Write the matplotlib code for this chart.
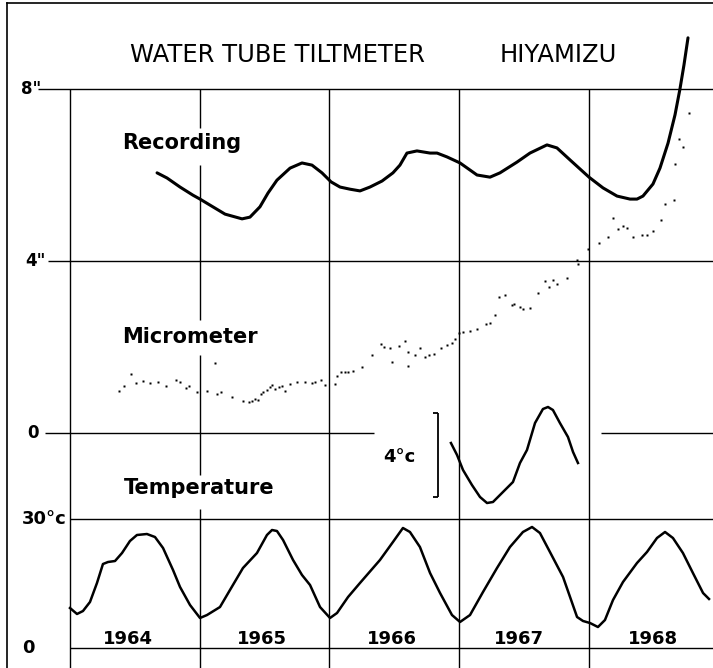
import matplotlib
matplotlib.use("Agg")
import matplotlib.pyplot as plt

# ---------------- data ----------------
years = [1964, 1965, 1966, 1967, 1968]
year_labels = ["1964", "1965", "1966", "1967", "1968"]
year_label_x = [1964.443, 1965.480, 1966.485, 1967.460, 1968.493]

tilt_ticks = [8, 4, 0]
tilt_tick_labels = ['8"', '4"', '0']
temp_ticks = [30, 0]
temp_tick_labels = ['30°c', '0']

# Recording (tilt, inches)
rec_t = [1964.671, 1964.748, 1964.848, 1964.948, 1965.002, 1965.079, 1965.195, 1965.326,
         1965.387, 1965.464, 1965.526, 1965.595, 1965.696, 1965.788, 1965.865, 1965.942,
         1966.012, 1966.081, 1966.158, 1966.235, 1966.312, 1966.405, 1966.489, 1966.543,
         1966.597, 1966.674, 1966.775, 1966.829, 1966.906, 1967.006, 1967.137, 1967.237,
         1967.314, 1967.445, 1967.545, 1967.676, 1967.753, 1967.854, 1968.000, 1968.108,
         1968.216, 1968.316, 1968.370, 1968.416, 1968.493, 1968.547, 1968.609, 1968.663,
         1968.701, 1968.732, 1968.763]
rec_in = [6.05, 5.93, 5.72, 5.53, 5.44, 5.30, 5.09, 4.98,
          5.02, 5.26, 5.58, 5.88, 6.16, 6.28, 6.23, 6.05,
          5.84, 5.72, 5.67, 5.63, 5.72, 5.86, 6.05, 6.23,
          6.51, 6.56, 6.51, 6.51, 6.42, 6.28, 6.00, 5.95,
          6.05, 6.30, 6.51, 6.70, 6.63, 6.35, 5.95, 5.70,
          5.51, 5.44, 5.44, 5.51, 5.79, 6.16, 6.74, 7.40,
          8.00, 8.56, 9.19]

# Micrometer (tilt, inches)
mic_t = [1964.378, 1964.416, 1964.470, 1964.509, 1964.563, 1964.617, 1964.678, 1964.740,
         1964.817, 1964.848, 1964.894, 1964.917, 1964.979, 1965.056, 1965.118, 1965.133,
         1965.164, 1965.249, 1965.333, 1965.380, 1965.403, 1965.426, 1965.449, 1965.472,
         1965.487, 1965.518, 1965.541, 1965.557, 1965.580, 1965.611, 1965.634, 1965.657,
         1965.696, 1965.750, 1965.811, 1965.865, 1965.888, 1965.934, 1965.965, 1966.042,
         1966.058, 1966.089, 1966.119, 1966.143, 1966.181, 1966.250, 1966.328, 1966.397,
         1966.420, 1966.466, 1966.482, 1966.536, 1966.582, 1966.605, 1966.605, 1966.659,
         1966.697, 1966.736, 1966.767, 1966.805, 1966.859, 1966.906, 1966.944, 1966.967,
         1966.998, 1967.029, 1967.083, 1967.137, 1967.206, 1967.237, 1967.276, 1967.306,
         1967.353, 1967.407, 1967.422, 1967.468, 1967.491, 1967.545, 1967.607, 1967.661,
         1967.692, 1967.723, 1967.753, 1967.830, 1967.908, 1967.915, 1967.992, 1968.077,
         1968.146, 1968.185, 1968.223, 1968.262, 1968.293, 1968.339, 1968.408, 1968.447,
         1968.493, 1968.555, 1968.586, 1968.655, 1968.663, 1968.694, 1968.724, 1968.771]
mic_in = [0.977, 1.093, 1.372, 1.163, 1.209, 1.163, 1.186, 1.093,
          1.233, 1.186, 1.047, 1.093, 0.953, 0.977, 1.628, 0.907,
          0.953, 0.837, 0.744, 0.721, 0.744, 0.791, 0.767, 0.907,
          0.953, 1.000, 1.070, 1.116, 1.023, 1.070, 1.093, 0.977,
          1.140, 1.186, 1.186, 1.163, 1.186, 1.233, 1.116, 1.140,
          1.326, 1.419, 1.419, 1.419, 1.442, 1.535, 1.814, 2.070,
          2.000, 1.977, 1.651, 2.023, 2.140, 1.884, 1.558, 1.814,
          1.977, 1.767, 1.814, 1.837, 1.977, 2.047, 2.093, 2.186,
          2.326, 2.349, 2.372, 2.419, 2.535, 2.558, 2.744, 3.163,
          3.209, 2.977, 3.000, 2.930, 2.884, 2.907, 3.256, 3.535,
          3.395, 3.558, 3.465, 3.605, 4.023, 3.930, 4.279, 4.419,
          4.558, 5.000, 4.744, 4.814, 4.767, 4.558, 4.605, 4.605,
          4.698, 4.953, 5.326, 5.419, 6.256, 6.837, 6.651, 7.442]

# Temperature (deg C)
temp_t = [1964.000, 1964.054, 1964.100, 1964.154, 1964.208, 1964.254, 1964.293, 1964.347,
          1964.401, 1964.462, 1964.516, 1964.593, 1964.655, 1964.717, 1964.794, 1964.848,
          1964.925, 1965.002, 1965.056, 1965.156, 1965.233, 1965.333, 1965.441, 1965.518,
          1965.557, 1965.595, 1965.642, 1965.719, 1965.788, 1965.850, 1965.927, 1966.004,
          1966.058, 1966.143, 1966.235, 1966.389, 1966.489, 1966.566, 1966.620, 1966.697,
          1966.775, 1966.852, 1966.944, 1967.006, 1967.083, 1967.183, 1967.291, 1967.391,
          1967.491, 1967.561, 1967.622, 1967.699, 1967.800, 1967.854, 1967.908, 1967.954,
          1968.008, 1968.069, 1968.123, 1968.185, 1968.262, 1968.370, 1968.447, 1968.524,
          1968.586, 1968.647, 1968.724, 1968.801, 1968.879, 1968.925]
temp_c = [9.30, 7.91, 8.60, 10.70, 15.12, 19.53, 20.00, 20.23,
          22.09, 24.88, 26.28, 26.51, 25.81, 23.26, 18.14, 14.19,
          10.00, 6.98, 7.67, 9.53, 13.49, 18.60, 22.09, 26.28,
          27.44, 27.21, 25.12, 20.47, 16.98, 14.65, 9.53, 6.98,
          8.14, 11.86, 15.12, 20.47, 24.65, 27.91, 26.98, 23.49,
          17.44, 12.79, 7.67, 6.05, 7.67, 13.02, 18.60, 23.49,
          26.98, 28.14, 26.74, 22.33, 16.51, 11.86, 7.21, 6.28,
          5.81, 4.88, 6.51, 11.16, 15.35, 19.77, 22.33, 25.58,
          26.98, 25.58, 22.09, 17.44, 12.79, 11.40]

# Inset temperature record (deg C, relative to scale bar base)
ins_t = [1966.936, 1966.983, 1967.029, 1967.098, 1967.160, 1967.214, 1967.260, 1967.337,
         1967.414, 1967.468, 1967.522, 1967.584, 1967.645, 1967.684, 1967.722, 1967.776,
         1967.838, 1967.877, 1967.915]
ins_c = [2.571, 2.000, 1.286, 0.571, 0.000, -0.286, -0.238, 0.238,
         0.714, 1.619, 2.238, 3.524, 4.190, 4.286, 4.143, 3.524,
         2.857, 2.143, 1.619]
scale_bar = [0, 4]

# ---------------- figure ----------------
W, H = 713, 668
fig = plt.figure(figsize=(W / 100, H / 100), dpi=100)
ax = fig.add_axes([7 / W, 0, (W - 7) / W, (H - 3) / H])
ax.set_xlim(1963.5145, 1968.9557)
ax.set_ylim(-5.465, 10.0)
ax_t = ax.twinx()
ax_t.set_ylim(-4.651, 150.0)
ax_i = ax.twinx()
ax_i.set_ylim(-8.143, 23.524)

for a in (ax, ax_t, ax_i):
    a.set_xticks([])
    a.set_yticks([])
    for s in a.spines.values():
        s.set_visible(False)
    a.patch.set_visible(False)
ax.spines["left"].set_visible(True)
ax.spines["top"].set_visible(True)
ax.spines["left"].set_linewidth(1.2)
ax.spines["top"].set_linewidth(1.2)

grid_kw = dict(color="black", lw=1.0)
xr = ax.get_xlim()[1]
ybot = ax.get_ylim()[0]

# horizontal tilt lines
ax.hlines(8, 1963.753, xr, **grid_kw)
ax.hlines(4, 1963.830, xr, **grid_kw)
ax.hlines(0, 1963.807, 1966.343, **grid_kw)
ax.hlines(0, 1968.092, xr, **grid_kw)
# temperature lines
ax_t.hlines(temp_ticks, years[0], xr, **grid_kw)

# vertical year lines
for yv in years:
    if yv == 1965:
        segs = [(8, 7.093), (6.233, 2.628), (1.814, -0.977), (-1.767, ybot)]
    else:
        segs = [(8, ybot)]
    for top, bot in segs:
        ax.vlines(yv, bot, top, **grid_kw)

# series
ax.plot(rec_t, rec_in, color="black", lw=2.2, solid_joinstyle="round",
        solid_capstyle="round")
ax.plot(mic_t, mic_in, ls="none", marker="s", ms=1.8, color="black", mec="none")
ax_t.plot(temp_t, temp_c, color="black", lw=1.8, solid_joinstyle="round")
ax_i.plot(ins_t, ins_c, color="black", lw=1.8, solid_joinstyle="round")

# scale bar
ax_i.vlines(1966.836, scale_bar[0], scale_bar[1], color="black", lw=1.3)
ax_i.hlines(scale_bar, 1966.798, 1966.836, color="black", lw=1.3)
ax_i.text(1966.536, 1.9, "4°c", ha="center", va="center", fontsize=13, fontweight="bold")

# texts
fs_lab = 15
ax.text(1964.462, 8.79, "WATER TUBE TILTMETER", ha="left", va="center", fontsize=17.5)
ax.text(1967.314, 8.79, "HIYAMIZU", ha="left", va="center", fontsize=17.5)
ax.text(1964.401, 6.744, "Recording", ha="left", va="center", fontsize=fs_lab,
        fontweight="bold")
ax.text(1964.401, 2.233, "Micrometer", ha="left", va="center", fontsize=fs_lab,
        fontweight="bold")
ax.text(1964.416, -1.279, "Temperature", ha="left", va="center", fontsize=fs_lab,
        fontweight="bold")

tilt_lab_x = [1963.622, 1963.653, 1963.669]
for xv, yv, lab in zip(tilt_lab_x, tilt_ticks, tilt_tick_labels):
    ax.text(xv, yv, lab, ha="left", va="center", fontsize=12, fontweight="bold")
for yv, lab in zip(temp_ticks, temp_tick_labels):
    ax_t.text(1963.630, yv, lab, ha="left", va="center", fontsize=13, fontweight="bold")

for xv, lab in zip(year_label_x, year_labels):
    ax_t.text(xv, 2.09, lab, ha="center", va="center", fontsize=13,
              fontweight="bold")

fig.savefig("out.png", dpi=100)
